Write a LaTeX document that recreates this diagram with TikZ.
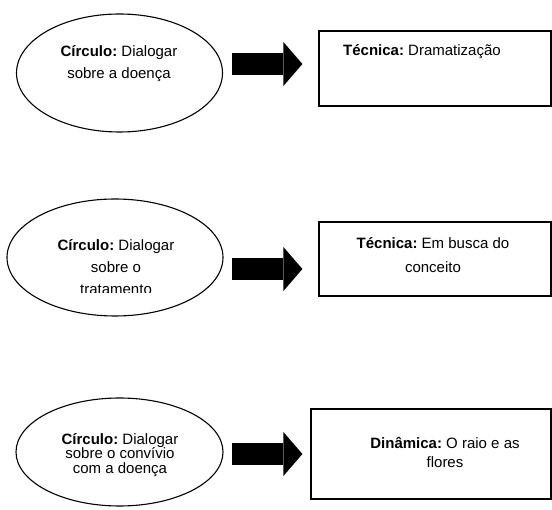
\documentclass[tikz,border=0pt]{standalone}
\usepackage{fontspec}
\setmainfont{Liberation Sans}
\usetikzlibrary{arrows.meta, shapes.geometric, positioning}

\tikzset{
  circ/.style={draw, ellipse, line width=1.1pt, inner sep=0pt},
  tbox/.style={draw, rectangle, line width=1.2pt, inner sep=0pt},
  lbl/.style={align=center, inner sep=0pt, font=\fontsize{15}{22}\selectfont\frenchspacing},
  blockarrow/.style={line width=22pt, -{Triangle[length=19pt, width=44pt, line width=0pt]}}
}

\begin{document}
\begin{tikzpicture}[x=1pt, y=-1pt]
  \useasboundingbox (0,0) rectangle (552,510);

  \node[circ, minimum width=206pt, minimum height=118pt] (c1) at (119.5,73) {};
  \node[circ, minimum width=216pt, minimum height=117pt] (c2) at (115,257.5) {};
  \node[circ, minimum width=207pt, minimum height=108pt] (c3) at (119.5,452) {};

  \node[tbox, minimum width=232pt, minimum height=75pt] (t1) at (435,68.5) {};
  \node[tbox, minimum width=232pt, minimum height=74pt] (t2) at (435,259) {};
  \node[tbox, minimum width=240pt, minimum height=90pt] (t3) at (431,454) {};

  \node[lbl] (c1t) at (119,63.5) {\textbf{Círculo:} Dialogar\\sobre a doença};
  \begin{scope}
    \clip (0,0) rectangle (552,292.5);
    \node[lbl] (c2t) at (116,267) {\textbf{Círculo:} Dialogar\\sobre o\\tratamento};
  \end{scope}
  \node[lbl, font=\fontsize{15}{14.5}\selectfont\frenchspacing] (c3t) at (120,455) {\textbf{Círculo:} Dialogar\\sobre o convívio\\com a doença};

  \node[lbl] (t1t) at (422,52) {\textbf{Técnica:} Dramatização};
  \node[lbl, font=\fontsize{15}{24}\selectfont\frenchspacing] (t2t) at (433,255) {\textbf{Técnica:} Em busca do\\conceito};
  \node[lbl, font=\fontsize{15}{19}\selectfont\frenchspacing] (t3t) at (445,452) {\textbf{Dinâmica:} O raio e as\\flores};

  \coordinate (a1) at (232,64);
  \coordinate (a2) at (232,269);
  \coordinate (a3) at (232,454);

  \draw[blockarrow, shorten >=16pt] (a1) -- (a1 -| t1.west);
  \draw[blockarrow, shorten >=16pt] (a2) -- (a2 -| t2.west);
  \draw[blockarrow, shorten >=8pt] (a3) -- (a3 -| t3.west);
\end{tikzpicture}
\end{document}
